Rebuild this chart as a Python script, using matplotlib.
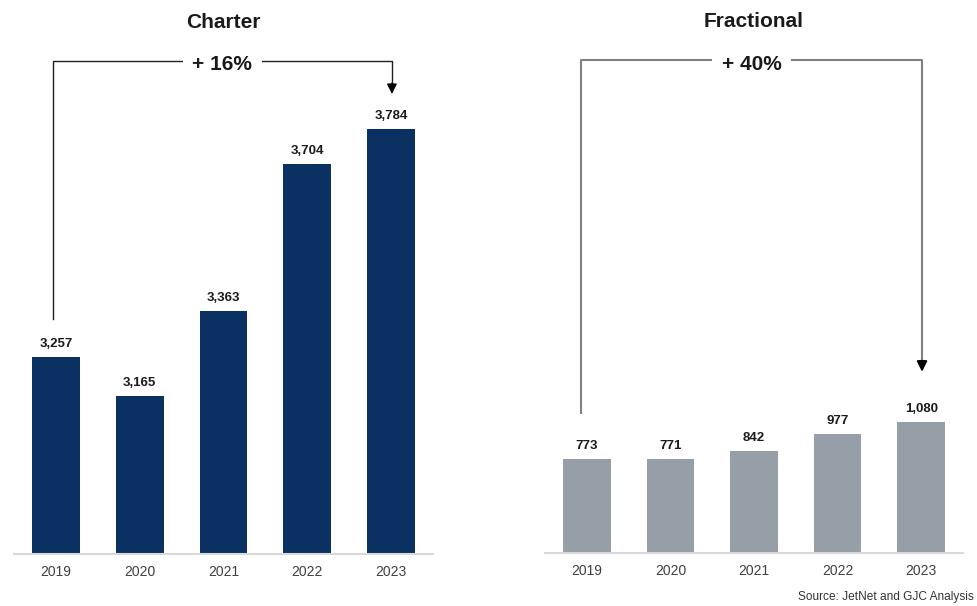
import matplotlib.pyplot as plt

plt.rcParams['font.family'] = ['Liberation Sans', 'DejaVu Sans']

years = ['2019', '2020', '2021', '2022', '2023']
charter = [3257, 3165, 3363, 3704, 3784]
fractional = [773, 771, 842, 977, 1080]
charter_growth = '+ 16%'
fractional_growth = '+ 40%'

NAVY = '#0A3161'
GREY = '#969EA8'
DPI = 100
W, H = 977, 606


def px_box(left, right, bottom, top):
    # axes box given in pixel coordinates measured from the top-left corner
    return [left / W, (H - bottom) / H, (right - left) / W, (bottom - top) / H]


def draw_panel(ax, values, color, ylim, title, growth, start_dx, start_gap, end_gap, bracket_color, bracket_lw):
    x = list(range(len(values)))
    ax.bar(x, values, width=0.57, color=color, zorder=2)
    ax.set_xlim(-0.5, len(values) - 0.5)
    ax.set_ylim(*ylim)

    for xi, v in zip(x, values):
        ax.annotate(f'{v:,}', (xi, v), xytext=(0, 5), textcoords='offset points',
                    ha='center', va='bottom', fontsize=9.5, fontweight='bold', color='#1a1a1a')

    ax.set_xticks(x)
    ax.set_xticklabels(years, fontsize=10, color='#404040')
    ax.tick_params(axis='x', length=0, pad=8)
    ax.set_yticks([])
    for s in ['top', 'left', 'right']:
        ax.spines[s].set_visible(False)
    ax.spines['bottom'].set_color('#d9d9d9')
    ax.spines['bottom'].set_linewidth(1.5)

    # data units per pixel, used to hang the bracket above the bars
    bbox = ax.get_position()
    per_px = (ylim[1] - ylim[0]) / (bbox.height * H)
    top = ylim[1] - 21 * per_px

    x0 = x[0] + start_dx
    x1 = x[-1] + 0.01
    y0 = values[0] + start_gap * per_px
    y1 = values[-1] + end_gap * per_px
    ax.plot([x0, x0, x1, x1], [y0, top, top, y1 + 9 * per_px],
            color=bracket_color, lw=bracket_lw, clip_on=False, zorder=3)
    ax.annotate('', xy=(x1, y1), xytext=(x1, y1 + 11 * per_px),
                arrowprops=dict(arrowstyle='-|>', color='black', lw=bracket_lw,
                                mutation_scale=15, shrinkA=0, shrinkB=0))
    ax.text((x0 + x1) / 2, top - 4 * per_px, growth, ha='center', va='center', fontsize=15,
            fontweight='bold', color='#1a1a1a', zorder=4,
            bbox=dict(facecolor='white', edgecolor='none', pad=7))
    ax.text(0.5, 1.034, title, transform=ax.transAxes, ha='center', va='center',
            fontsize=15, fontweight='bold', color='#1a1a1a')


fig = plt.figure(figsize=(W / DPI, H / DPI), dpi=DPI)
ax1 = fig.add_axes(px_box(14, 433, 554, 40))
ax2 = fig.add_axes(px_box(545, 963, 553, 39))

draw_panel(ax1, charter, NAVY, (2800, 3990), 'Charter', charter_growth,
           -0.04, 38, 35, '#222222', 1.0)
draw_panel(ax2, fractional, GREY, (0, 4230), 'Fractional', fractional_growth,
           -0.07, 46, 50, '#808080', 1.5)

fig.text(0.997, (H - 597) / H, 'Source: JetNet and GJC Analysis', ha='right', va='center',
         fontsize=8.6, color='#333333')

fig.savefig('out.png', dpi=DPI, facecolor='white')
